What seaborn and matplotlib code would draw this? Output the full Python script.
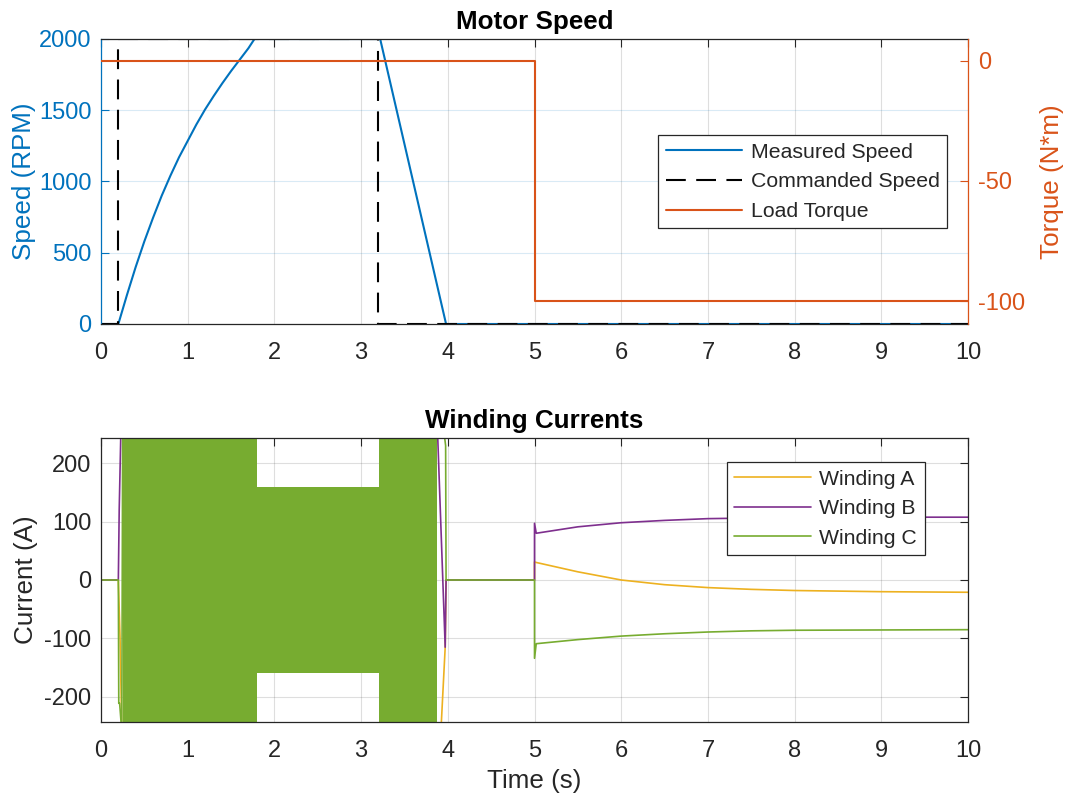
import numpy as np
import pandas as pd
import matplotlib
matplotlib.use("Agg")
import matplotlib.pyplot as plt
import seaborn as sns

# MATLAB-ish default colours
BLUE = "#0072BD"
ORANGE = "#D95319"
YELLOW = "#EDB120"
PURPLE = "#7E2F8E"
GREEN = "#77AC30"
DARK = "#262626"

# ---- top panel: speed and load torque ----
speed_t = [0, 0.2, 0.3, 0.4, 0.5, 0.6, 0.7, 0.8, 0.9, 1.0, 1.1, 1.2, 1.3, 1.4, 1.5, 1.6, 1.7, 1.77,
           3.2, 3.22, 3.6, 3.98, 10]
speed_rpm = [0, 0, 205, 400, 580, 745, 900, 1040, 1170, 1285, 1400, 1505, 1600, 1690, 1775, 1855, 1935, 2000,
             2000, 2000, 1000, 0, 0]

cmd_t = [0, 0.2, 0.2, 3.2, 3.2, 10]
cmd_rpm = [0, 0, 2000, 2000, 0, 0]

torque_t = [0, 5, 5, 10]
torque_nm = [0, 0, -100, -100]

# ---- bottom panel: winding currents ----
# dense PWM band (envelope)
band_t = [0.25, 1.80, 1.80, 3.21, 3.21, 3.88]
band_amp = [260, 260, 160, 160, 260, 260]

a_t = [0, 0.20, 0.22, 0.24, 3.92, 3.97, 3.98, 5.0, 5.0, 5.02, 5.5, 6, 6.5, 7, 7.5, 8, 9, 10]
a_amp = [0, 0, -100, -260, -260, -115, 0, 0, 31, 30, 14, 0, -8, -13, -16, -18, -20, -21]

b_t = [0, 0.20, 0.21, 0.23, 3.88, 3.97, 3.98, 5.0, 5.0, 5.02, 5.5, 6, 6.5, 7, 7.5, 8, 9, 10]
b_amp = [0, 0, 120, 260, 260, -115, 0, 0, 97, 80, 91, 98, 102, 105, 106, 107, 107.5, 107.5]

c_t = [0, 0.20, 0.205, 0.215, 0.24, 0.25, 3.95, 3.975, 3.98, 5.0, 5.0, 5.02, 5.5, 6, 6.5, 7, 7.5, 8, 9, 10]
c_amp = [0, 0, -211, -211, -260, 260, 260, 230, 0, 0, -134, -109, -102, -96, -92, -89, -87, -86, -85.5, -85]

sns.set_theme(style="white")
plt.rcParams["font.family"] = ["Liberation Sans", "DejaVu Sans"]
plt.rcParams["axes.unicode_minus"] = False

TICK = 17
LABEL = 18.7
LEG = 15.3

fig = plt.figure(figsize=(10.68, 8.02), dpi=100)
ax1 = fig.add_axes([101 / 1068, 1 - 324 / 802, 867 / 1068, 285 / 802])
ax3 = fig.add_axes([101 / 1068, 1 - 722 / 802, 867 / 1068, 284 / 802])
ax2 = ax1.twinx()

# top panel
sns.lineplot(x=speed_t, y=speed_rpm, ax=ax1, estimator=None, sort=False,
             color=BLUE, lw=1.5, label="Measured Speed", legend=False)
sns.lineplot(x=cmd_t, y=cmd_rpm, ax=ax1, estimator=None, sort=False,
             color="black", lw=1.5, label="Commanded Speed", legend=False)
ax1.lines[-1].set_dashes((9.5, 5))
sns.lineplot(x=torque_t, y=torque_nm, ax=ax2, estimator=None, sort=False,
             color=ORANGE, lw=1.5, label="Load Torque", legend=False)

ax1.set_xlim(0, 10)
ax1.set_ylim(0, 2000)
ax1.set_yticks([0, 500, 1000, 1500, 2000])
ax1.set_xticks(range(0, 11))
ax2.set_ylim(-109.5, 9)
ax2.set_yticks([-100, -50, 0])

ax1.grid(axis="x", color=DARK, alpha=0.15, lw=0.8)
ax1.grid(axis="y", color=BLUE, alpha=0.15, lw=0.8)
ax1.set_axisbelow(True)

for s in ["top", "bottom"]:
    ax1.spines[s].set_color(DARK)
    ax2.spines[s].set_visible(False)
ax1.spines["left"].set_color(BLUE)
ax1.spines["right"].set_visible(False)
ax2.spines["left"].set_visible(False)
ax2.spines["right"].set_color(ORANGE)
for sp in list(ax1.spines.values()) + list(ax2.spines.values()):
    sp.set_linewidth(0.9)

ax1.tick_params(axis="x", direction="in", top=True, length=6, width=0.8,
                color=DARK, labelcolor=DARK, labelsize=TICK, pad=13)
ax1.tick_params(axis="y", direction="in", length=6, width=0.8,
                colors=BLUE, labelsize=TICK, pad=7)
ax2.tick_params(axis="y", direction="in", length=6, width=0.8,
                colors=ORANGE, labelsize=TICK, pad=7)

ax1.set_ylabel("Speed (RPM)", fontsize=LABEL, color=BLUE, labelpad=2)
ax2.set_ylabel("Torque (N*m)", fontsize=LABEL, color=ORANGE, labelpad=11)
ax1.set_xlabel("")
ax1.set_title("Motor Speed", fontsize=LABEL, fontweight="bold", color="black", pad=7.5)

handles = ax1.get_lines()[:2] + ax2.get_lines()[:1]
leg = ax2.legend(handles, [h.get_label() for h in handles], loc="upper right",
                 bbox_to_anchor=(0.9756, 0.662), borderaxespad=0, fontsize=LEG, frameon=True,
                 fancybox=False, edgecolor=DARK, framealpha=1, handlelength=3.6,
                 handletextpad=0.4, labelspacing=0.5, borderpad=0.35)
leg.get_frame().set_linewidth(0.9)
for t in leg.get_texts():
    t.set_color(DARK)

# bottom panel
sns.lineplot(x=a_t, y=a_amp, ax=ax3, estimator=None, sort=False,
             color=YELLOW, lw=1.2, label="Winding A", legend=False)
sns.lineplot(x=b_t, y=b_amp, ax=ax3, estimator=None, sort=False,
             color=PURPLE, lw=1.2, label="Winding B", legend=False)
ax3.fill_between(band_t, [-v for v in band_amp], band_amp, color=GREEN, lw=0, zorder=2.1)
sns.lineplot(x=c_t, y=c_amp, ax=ax3, estimator=None, sort=False,
             color=GREEN, lw=1.2, label="Winding C", legend=False)

ax3.set_xlim(0, 10)
ax3.set_ylim(-243, 243)
ax3.set_xticks(range(0, 11))
ax3.set_yticks([-200, -100, 0, 100, 200])
ax3.grid(True, color=DARK, alpha=0.15, lw=0.8)
ax3.set_axisbelow(True)
for sp in ax3.spines.values():
    sp.set_color(DARK)
    sp.set_linewidth(0.9)
ax3.tick_params(axis="both", direction="in", top=True, right=True, length=6, width=0.8,
                color=DARK, labelcolor=DARK, labelsize=TICK)
ax3.tick_params(axis="x", pad=13)
ax3.tick_params(axis="y", pad=7)
ax3.set_xlabel("Time (s)", fontsize=LABEL, color=DARK, labelpad=5)
ax3.set_ylabel("Current (A)", fontsize=LABEL, color=DARK, labelpad=4.5)
ax3.set_title("Winding Currents", fontsize=LABEL, fontweight="bold", color="black", pad=7.5)

h3 = ax3.get_lines()[:3]
leg3 = ax3.legend(h3, [h.get_label() for h in h3], loc="upper right",
                  bbox_to_anchor=(0.950, 0.915), borderaxespad=0, fontsize=LEG, frameon=True,
                  fancybox=False, edgecolor=DARK, framealpha=1, handlelength=3.6,
                  handletextpad=0.4, labelspacing=0.5, borderpad=0.35)
leg3.get_frame().set_linewidth(0.9)
for t in leg3.get_texts():
    t.set_color(DARK)

fig.savefig("out.png", dpi=100)
